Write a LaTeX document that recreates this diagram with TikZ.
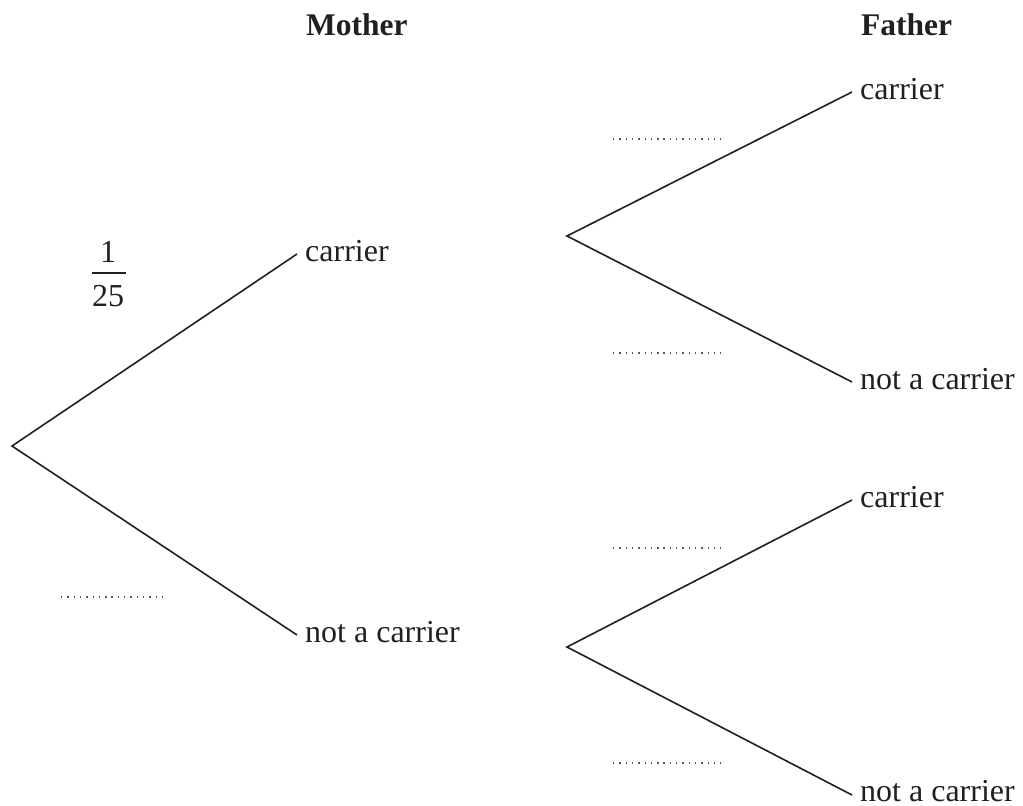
\documentclass[tikz,border=0pt]{standalone}
\usepackage{fontspec}
\setmainfont{Liberation Serif}
\definecolor{ink}{HTML}{231F20}
\definecolor{dotc}{HTML}{58595B}
\begin{document}
\begin{tikzpicture}[x=1pt,y=-1pt,
  branch/.style={draw=ink,line width=1.6pt},
  lbl/.style={anchor=base west,inner sep=0pt,text=ink,font=\fontsize{32}{38}\selectfont},
  num/.style={anchor=base,inner sep=0pt,text=ink,font=\fontsize{32}{38}\selectfont},
  hdr/.style={anchor=base west,inner sep=0pt,text=ink,font=\fontsize{31.5}{38}\selectfont\bfseries},
  blank/.style={draw=dotc,line width=1.4pt,dash pattern=on 1.4pt off 4.9pt}]
\useasboundingbox (0,0) rectangle (1023,806);
% headers
\node[hdr] (hm) at (306,35) {Mother};
\node[hdr] (hf) at (861,35) {Father};
% tree points
\coordinate (R) at (12,446);
\coordinate (MC) at (297,254);
\coordinate (MN) at (297,635);
\coordinate (U) at (567,236);
\coordinate (L) at (567,647);
\coordinate (UC) at (852,92);
\coordinate (UN) at (852,382);
\coordinate (LC) at (852,500);
\coordinate (LN) at (852,795);
% branches
\draw[branch] (MC) -- (R) -- (MN);
\draw[branch] (UC) -- (U) -- (UN);
\draw[branch] (LC) -- (L) -- (LN);
% labels
\node[lbl] (tMC) at ([shift={(8,7)}]MC) {carrier};
\node[lbl] (tMN) at ([shift={(8,7)}]MN) {not a carrier};
\node[lbl] (tUC) at ([shift={(8,7)}]UC) {carrier};
\node[lbl] (tUN) at ([shift={(8,7)}]UN) {not a carrier};
\node[lbl] (tLC) at ([shift={(8,7)}]LC) {carrier};
\node[lbl] (tLN) at ([shift={(8,6)}]LN) {not a carrier};
% fraction
\node[num] (f1) at (108,262) {1};
\node[num] (f25) at (108,306) {25};
\coordinate (barL) at (92,273);
\coordinate (barR) at (126,273);
\draw[draw=ink,line width=1.5pt] (barL) -- (barR);
% blanks
\coordinate (b1a) at (61,597); \coordinate (b1b) at (168,597);
\coordinate (b2a) at (613,139); \coordinate (b2b) at (721,139);
\coordinate (b3a) at (613,353); \coordinate (b3b) at (721,353);
\coordinate (b4a) at (613,548); \coordinate (b4b) at (721,548);
\coordinate (b5a) at (613,763); \coordinate (b5b) at (721,763);
\draw[blank] (b1a) -- (b1b);
\draw[blank] (b2a) -- (b2b);
\draw[blank] (b3a) -- (b3b);
\draw[blank] (b4a) -- (b4b);
\draw[blank] (b5a) -- (b5b);
\end{tikzpicture}
\end{document}
